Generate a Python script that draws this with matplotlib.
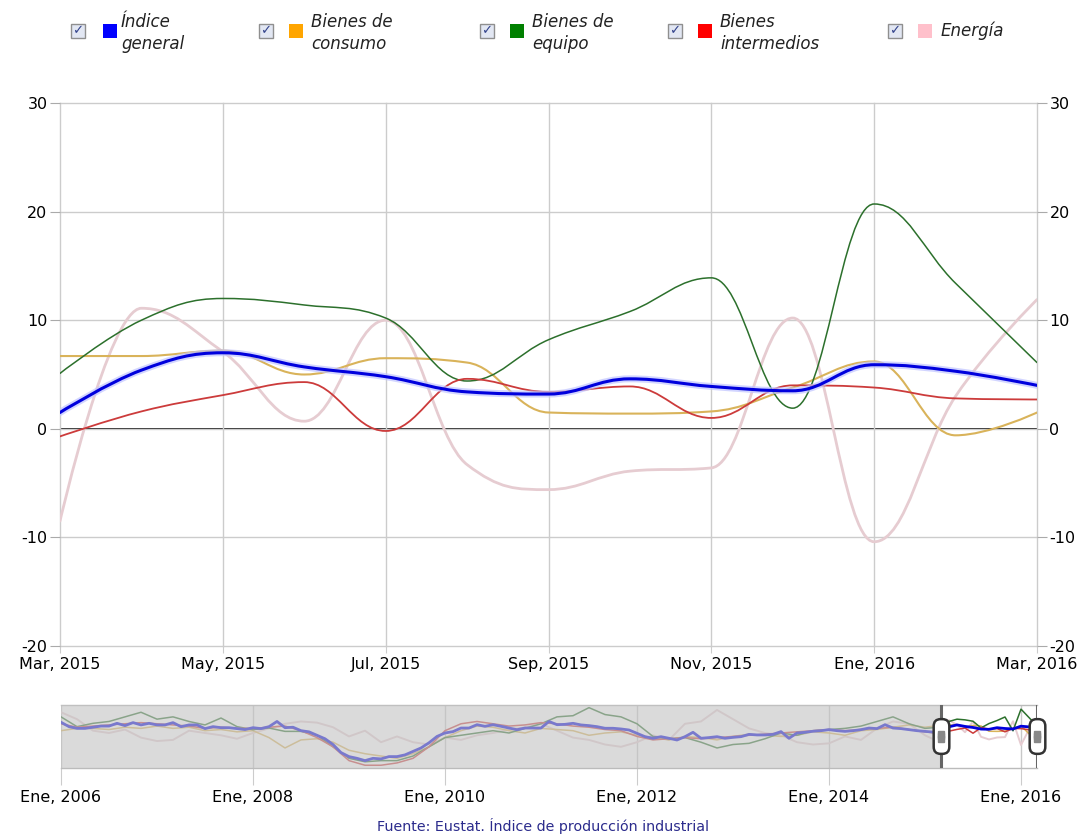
import numpy as np
import matplotlib
matplotlib.use("Agg")
import matplotlib.pyplot as plt
from matplotlib.path import Path
from matplotlib.patches import PathPatch, Rectangle, FancyBboxPatch

# --- main chart: monthly, Mar 2015 .. Mar 2016 (% change) ---
general = [1.5, 5.4, 7.0, 5.7, 4.8, 3.4, 3.2, 4.6, 3.9, 3.5, 5.9, 5.3, 4.0]
consumo = [6.7, 6.7, 7.2, 5.0, 6.5, 6.1, 1.5, 1.4, 1.6, 3.8, 6.2, -0.6, 1.5]
equipo = [5.1, 10.0, 12.0, 11.4, 10.2, 4.4, 8.2, 10.8, 13.9, 1.9, 20.7, 13.4, 6.1]
intermedios = [-0.7, 1.6, 3.1, 4.3, -0.2, 4.6, 3.4, 3.9, 1.0, 4.0, 3.8, 2.8, 2.7]
energia = [-8.5, 11.1, 7.1, 0.7, 10.0, -3.3, -5.6, -3.9, -3.6, 10.2, -10.4, 3.0, 11.9]

main_ticks = ["Mar, 2015", "May, 2015", "Jul, 2015", "Sep, 2015",
              "Nov, 2015", "Ene, 2016", "Mar, 2016"]

# --- navigator history: Ene 2006 .. Feb 2015 ---
hist_general = [9.3, 5.5, 4.0, 4.0, 5.0, 6.0, 6.0, 8.4, 6.4, 9.0, 7.0, 8.4,
                7.0, 7.0, 9.0, 5.5, 7.0, 7.0, 3.8, 5.5, 4.6, 4.6, 3.8, 3.0,
                4.6, 3.8, 5.5, 10.0, 4.6, 5.0, 2.0, 1.0, -2.0, -5.0, -10.0, -17.0,
                -20.5, -22.0, -24.0, -22.0, -22.5, -20.5, -20.5, -19.0, -16.0, -13.0, -8.5, -3.0,
                0.0, 1.2, 4.3, 4.3, 7.2, 5.8, 7.2, 5.8, 4.3, 2.9, 4.3, 4.3,
                4.3, 10.0, 7.2, 7.5, 8.4, 7.0, 6.4, 5.5, 4.1, 4.1, 3.5, 2.6,
                -0.3, -3.2, -4.6, -3.2, -4.6, -6.1, -3.2, 0.6, -4.6, -4.0, -3.2, -4.6,
                -3.8, -3.2, -1.2, -1.7, -1.7, -1.2, 1.2, -4.6, 0.0, 0.6, 1.5, 2.0,
                2.9, 2.0, 1.4, 2.0, 2.9, 4.3, 3.8, 7.2, 4.3, 3.8, 2.9, 2.0,
                1.4, 0.8]
# other series read every second month (Ene 2006, Mar 2006, ...)
hist_equipo = [14, 5.5, 8.4, 10, 14, 18, 12, 14, 10, 7, 13, 5.5,
               2.9, 4.3, 1.4, 1.4, -2, -12, -22, -25, -24, -24, -20, -12,
               -4, -2, 0, 2, 0, 4, 8, 14, 15, 22, 16, 14,
               8, -3, -5, -4, -8, -13, -10, -9, -5, 0, -2, 2,
               3, 4, 6, 10, 14, 8, 4]
hist_energia = [18, 12, 2, 0, 3, -4, -7, -6, 2, 0, -2, -5,
                0, 4, 8, 10, 9, 5, -3, 2, -8, -3, -8, -10,
                -4, -6, -2, 0, 3, 5, 8, 2, -4, -6, -10, -12,
                -8, -2, -6, 8, 10, 20, 12, 4, 0, -2, -8, -10,
                -9, -3, -6, 4, 10, 8, -2]
hist_consumo = [2, 4, 4, 3, 5, 4, 6, 4, 5, 2, 3, 1,
                2, -4, -13, -6, -5, -8, -15, -18, -20, -22, -18, -12,
                -4, 2, 6, 5, 2, 0, 4, 3, 2, -2, 0, 1,
                -2, -4, -6, -3, -4, -6, -3, -1, -2, -3, -2, 1,
                0, -2, 2, 3, 5, 7, 5]
hist_intermedios = [8, 5, 6, 7, 8, 9, 8, 7, 6, 4, 5, 4,
                    4, 5, 6, 2, -4, -12, -24, -28, -28, -26, -22, -12,
                    2, 8, 10, 8, 6, 7, 9, 8, 6, 5, 3, 2,
                    -3, -6, -5, -4, -5, -4, -3, -2, -1, 0, 1, 2,
                    3, 2, 3, 4, 5, 3, 1]

nav_ticks = ["Ene, 2006", "Ene, 2008", "Ene, 2010", "Ene, 2012", "Ene, 2014", "Ene, 2016"]

names = ["Índice\ngeneral", "Bienes de\nconsumo", "Bienes de\nequipo",
         "Bienes\nintermedios", "Energía"]
legend_colors = ["#0000ff", "#ffa500", "#008000", "#ff0000", "#ffc0cb"]
line_colors = ["#0000dd", "#d9b35a", "#2c702c", "#cc3b3b", "#e6ccd1"]


def spline_path(xs, ys, smoothing=1.5):
    # bezier spline in the style of Highcharts (no overshoot at the points)
    denom = smoothing + 1
    n = len(xs)
    verts = [(xs[0], ys[0])]
    codes = [Path.MOVETO]
    right = [None] * n
    for i in range(1, n):
        px, py = xs[i], ys[i]
        lx, ly = xs[i - 1], ys[i - 1]
        lcx, lcy = px, py
        if i < n - 1:
            nx, ny = xs[i + 1], ys[i + 1]
            lcx = (smoothing * px + lx) / denom
            lcy = (smoothing * py + ly) / denom
            rcx = (smoothing * px + nx) / denom
            rcy = (smoothing * py + ny) / denom
            corr = (rcy - lcy) * (rcx - px) / (rcx - lcx) + py - rcy
            lcy += corr
            rcy += corr
            if lcy > ly and lcy > py:
                lcy = max(ly, py)
                rcy = 2 * py - lcy
            elif lcy < ly and lcy < py:
                lcy = min(ly, py)
                rcy = 2 * py - lcy
            if rcy > ny and rcy > py:
                rcy = max(ny, py)
                lcy = 2 * py - rcy
            elif rcy < ny and rcy < py:
                rcy = min(ny, py)
                lcy = 2 * py - rcy
            right[i] = (rcx, rcy)
        c1 = right[i - 1] if right[i - 1] else (lx, ly)
        verts += [c1, (lcx, lcy), (px, py)]
        codes += [Path.CURVE4] * 3
    return Path(verts, codes)


plt.rcParams["font.family"] = "DejaVu Sans"
plt.rcParams["axes.unicode_minus"] = False

W, H = 1086, 835
fig = plt.figure(figsize=(W / 100, H / 100), dpi=100)


def fx(px):
    return px / W


def fy(py):
    return 1 - py / H


# ---------------- main chart ----------------
ax = fig.add_axes([fx(60), fy(646), fx(1037) - fx(60), fy(103) - fy(646)])
x = np.arange(len(general))
series = [general, consumo, equipo, intermedios, energia]
z = [6, 3, 4, 4, 2]
widths = [2.2, 1.5, 1.1, 1.3, 2.0]
for s, c, lw, zz in zip(series, line_colors, widths, z):
    path = spline_path(x, np.array(s, float))
    if c == line_colors[0]:
        ax.add_patch(PathPatch(path, fill=False, ec="#c0c4ff", lw=5, alpha=0.7,
                               zorder=zz - 0.5, capstyle="round"))
    ax.add_patch(PathPatch(path, fill=False, ec=c, lw=lw, zorder=zz, capstyle="round"))

ax.set_xlim(0, 12)
ax.set_ylim(-20, 30)
ax.set_xticks(np.arange(0, 13, 2))
ax.set_xticklabels(main_ticks)
ax.set_yticks([-20, -10, 0, 10, 20, 30])
ax.grid(True, color="#cccccc", lw=1)
for gl in ax.get_xgridlines() + ax.get_ygridlines():
    gl.set_clip_on(False)
ax.axhline(0, color="black", lw=1.2, zorder=1.5)
for sp in ax.spines.values():
    sp.set_visible(False)
ax.tick_params(axis="y", which="both", left=True, right=True, labelleft=True,
               labelright=True, length=7, color="#aaaaaa", labelsize=11.5, pad=2)
ax.tick_params(axis="x", length=5, color="#cccccc", labelsize=11.5, pad=3)

# ---------------- navigator ----------------
nav = fig.add_axes([fx(61), fy(768), fx(1037) - fx(61), fy(705) - fy(768)])
n_hist = len(hist_general)
xg = np.concatenate([np.arange(n_hist), n_hist + np.arange(len(general))])
xs2 = np.concatenate([np.arange(0, n_hist, 2), n_hist + np.arange(len(general))])
nav_series = [
    (xs2, hist_energia + energia, line_colors[4], 1.4),
    (xs2, hist_consumo + consumo, line_colors[1], 1.1),
    (xs2, hist_equipo + equipo, line_colors[2], 1.1),
    (xs2, hist_intermedios + intermedios, line_colors[3], 1.1),
    (xg, hist_general + general, line_colors[0], 2.0),
]
for xx, yy, c, lw in nav_series:
    nav.plot(xx, yy, color=c, lw=lw, zorder=2)

sel0, sel1 = n_hist, n_hist + len(general) - 1
nav.set_xlim(0, sel1)
nav.set_ylim(-30.4, 24.3)
nav.axvspan(0, sel0, color="#c4c4c4", alpha=0.62, lw=0, zorder=3)
nav.set_xticks(np.arange(0, sel1, 24))
nav.set_xticklabels(nav_ticks)
nav.set_yticks([])
nav.grid(True, axis="x", color="#c8c8c8", lw=1, zorder=1)
nav.tick_params(axis="x", length=12, color="#cccccc", labelsize=11.5, pad=4)
for sp in nav.spines.values():
    sp.set_color("#bbbbbb")
    sp.set_linewidth(1)
nav.spines["left"].set_visible(False)
nav.spines["right"].set_visible(False)

# range handles
hb = FancyBboxPatch((-0.45, -1), 0.9, 2, boxstyle="round,pad=0,rounding_size=0.4")
handle_path = hb.get_path()
for hx in (sel0, sel1):
    nav.axvline(hx, color="#666666", lw=2.2, zorder=4)
    nav.plot([hx], [-3], marker=handle_path, ms=25, mfc="white", mec="#333333",
             mew=1.8, zorder=5, clip_on=False)
    nav.plot([hx], [-3], marker="s", ms=4, mfc="#888888", mec="#888888", zorder=6,
             clip_on=False)
    nav.plot([hx], [-1], marker="s", ms=4, mfc="#888888", mec="#888888", zorder=6,
             clip_on=False)
    nav.plot([hx], [-5], marker="s", ms=4, mfc="#888888", mec="#888888", zorder=6,
             clip_on=False)

# ---------------- legend ----------------
box_x = [78, 266, 487, 675, 895]
sq_x = [110, 296, 517, 705, 925]
txt_x = [121, 311, 532, 720, 941]
for bx, sx, tx, name, c in zip(box_x, sq_x, txt_x, names, legend_colors):
    fig.patches.append(Rectangle((fx(bx - 7), fy(38)), fx(14), fy(0) - fy(14),
                                 transform=fig.transFigure, fc="#e2e7f3",
                                 ec="#8f8f8f", lw=1))
    fig.text(fx(bx), fy(31), "\u2713", color="#34448c", fontsize=9.5,
             ha="center", va="center", fontweight="bold")
    fig.patches.append(Rectangle((fx(sx - 7), fy(38)), fx(14), fy(0) - fy(14),
                                 transform=fig.transFigure, fc=c, ec="none"))
    lines = name.split("\n")
    if len(lines) == 1:
        fig.text(fx(tx), fy(36), lines[0], fontsize=12, style="italic",
                 ha="left", va="baseline", color="#222222")
    else:
        fig.text(fx(tx), fy(27), lines[0], fontsize=12, style="italic",
                 ha="left", va="baseline", color="#222222")
        fig.text(fx(tx), fy(49), lines[1], fontsize=12, style="italic",
                 ha="left", va="baseline", color="#222222")

fig.text(0.5, fy(826), "Fuente: Eustat. Índice de producción industrial",
         ha="center", va="center", fontsize=10.3, color="#2b2b8c")

fig.savefig("out.png", dpi=100, facecolor="white")
